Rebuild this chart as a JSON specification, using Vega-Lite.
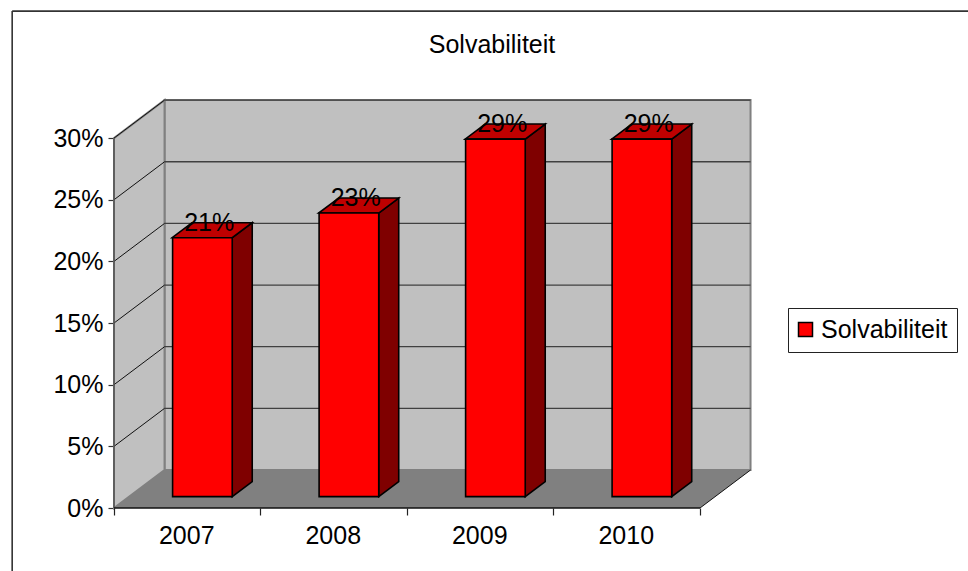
{
"$schema":"https://vega.github.io/schema/vega-lite/v6.json",
"width":636,"height":408,
"autosize":{"type":"none"},
"padding":{"left":114,"top":100,"right":218,"bottom":63},
"background":"white",
"config":{"view":{"stroke":null},"font":"Liberation Sans"},
"title":{"text":"Solvabiliteit","font":"Liberation Sans","fontSize":25,"fontWeight":"normal","color":"#000","anchor":"middle","dx":60,"offset":-68,"baseline":"alphabetic"},
"datasets":{
"bars":[{"year":"2007","value":21},{"year":"2008","value":23},{"year":"2009","value":29},{"year":"2010","value":29}],
"ticks":[{"tick":5},{"tick":10},{"tick":15},{"tick":20},{"tick":25},{"tick":30}],
"depth":[{"t":0},{"t":1}],
"one":[{"k":1}]
},
"layer":[
{"data":{"name":"one"},"mark":{"type":"rect","fill":"#c0c0c0","stroke":"#808080","strokeWidth":2},
 "encoding":{
  "x":{"datum":0.345,"type":"quantitative","scale":{"domain":[0,4.3413],"nice":false,"zero":false},
   "axis":{"values":[0,0.5,1,1.5,2,2.5,3,3.5,4],"title":null,"grid":false,"domain":false,"tickSize":7,"tickColor":"#222","tickWidth":1.2,
    "tickOpacity":{"condition":{"test":"datum.value % 1 === 0","value":1},"value":0},
    "labelExpr":"datum.value % 1 === 0 ? '' : ['2007','2008','2009','2010'][floor(datum.value)]",
    "labelFontSize":25,"labelColor":"#000","labelPadding":8,"labelOffset":-1,"labelFont":"Liberation Sans","labelAngle":0,"labelOverlap":false,"labelBound":false,"labelFlush":false}},
  "x2":{"datum":4.345},
  "y":{"datum":3.08,"type":"quantitative","scale":{"domain":[0,33.09],"nice":false,"zero":false},
   "axis":{"values":[0,5,10,15,20,25,30],"title":null,"grid":false,"domain":false,"tickSize":6,"tickColor":"#333","tickWidth":1.2,
    "labelExpr":"datum.value + '%'","labelFontSize":25,"labelColor":"#000","labelPadding":5,"labelFont":"Liberation Sans","labelOverlap":false,"labelBound":false}},
  "y2":{"datum":33.08}
 }},
{"data":{"name":"depth"},"transform":[{"calculate":"datum.t*0.345","as":"x"},{"calculate":"datum.t*3.08","as":"y0"},{"calculate":"30+datum.t*3.08","as":"y1"}],
 "mark":{"type":"area","fill":"#c0c0c0","stroke":"#808080","strokeWidth":2,"orient":"vertical"},
 "encoding":{"x":{"field":"x","type":"quantitative"},"y":{"field":"y1","type":"quantitative"},"y2":{"field":"y0"}}},
{"data":{"name":"depth"},"transform":[{"calculate":"datum.t*0.345","as":"x0"},{"calculate":"4+datum.t*0.345","as":"x1"},{"calculate":"datum.t*3.08","as":"y"}],
 "mark":{"type":"area","fill":"#808080","orient":"horizontal"},
 "encoding":{"y":{"field":"y","type":"quantitative"},"x":{"field":"x0","type":"quantitative"},"x2":{"field":"x1"}}},
{"data":{"name":"ticks"},"transform":[{"calculate":"datum.tick+3.08","as":"yb"}],
 "mark":{"type":"rule","color":"#404040","strokeWidth":1.3},
 "encoding":{"x":{"datum":0.345,"type":"quantitative"},"x2":{"datum":4.345},"y":{"field":"yb","type":"quantitative"}}},
{"data":{"name":"ticks"},"transform":[{"calculate":"[0,1]","as":"t"},{"flatten":["t"]},{"calculate":"datum.t*0.345","as":"x"},{"calculate":"datum.tick+datum.t*3.08","as":"y"}],
 "mark":{"type":"line","color":"#111","strokeWidth":1},
 "encoding":{"x":{"field":"x","type":"quantitative"},"y":{"field":"y","type":"quantitative"},"detail":{"field":"tick"}}},
{"data":{"name":"one"},"mark":{"type":"rule","color":"#555","strokeWidth":1.5},
 "encoding":{"x":{"datum":0,"type":"quantitative"},"y":{"datum":0,"type":"quantitative"},"y2":{"datum":30}}},
{"data":{"name":"depth"},"transform":[{"calculate":"4+datum.t*0.345","as":"x"},{"calculate":"datum.t*3.08","as":"y"}],
 "mark":{"type":"line","color":"#111","strokeWidth":1},
 "encoding":{"x":{"field":"x","type":"quantitative"},"y":{"field":"y","type":"quantitative"}}},
{"data":{"name":"one"},"mark":{"type":"rule","color":"#111","strokeWidth":1.3},
 "encoding":{"x":{"datum":0,"type":"quantitative"},"x2":{"datum":4},"y":{"datum":0,"type":"quantitative"}}},
{"data":{"name":"bars"},"transform":[{"calculate":"toNumber(datum.year)-2007","as":"i"},{"calculate":"[0,1]","as":"t"},{"flatten":["t"]},{"calculate":"datum.i+0.807+datum.t*0.1365","as":"x"},{"calculate":"datum.value+0.92+datum.t*1.22","as":"y1"},{"calculate":"0.92+datum.t*1.22","as":"y0"}],
 "mark":{"type":"area","fill":"#7f0000","stroke":"#000","strokeWidth":1.6,"orient":"vertical"},
 "encoding":{"x":{"field":"x","type":"quantitative"},"y":{"field":"y1","type":"quantitative"},"y2":{"field":"y0"},"detail":{"field":"year"}}},
{"data":{"name":"bars"},"transform":[{"calculate":"toNumber(datum.year)-2007","as":"i"},{"calculate":"[0,1]","as":"t"},{"flatten":["t"]},{"calculate":"datum.i+0.397+datum.t*0.1365","as":"x0"},{"calculate":"datum.i+0.807+datum.t*0.1365","as":"x1"},{"calculate":"datum.value+0.92+datum.t*1.22","as":"y"}],
 "mark":{"type":"area","fill":"#bf0000","stroke":"#000","strokeWidth":1.6,"orient":"horizontal"},
 "encoding":{"y":{"field":"y","type":"quantitative"},"x":{"field":"x0","type":"quantitative"},"x2":{"field":"x1"},"detail":{"field":"year"}}},
{"data":{"name":"bars"},"transform":[{"calculate":"toNumber(datum.year)-2007+0.4","as":"x0"},{"calculate":"toNumber(datum.year)-2007+0.807","as":"x1"},{"calculate":"datum.value+0.92","as":"y1"},{"calculate":"0.92","as":"y0"}],
 "mark":{"type":"rect","stroke":"#000","strokeWidth":1.6},
 "encoding":{"x":{"field":"x0","type":"quantitative"},"x2":{"field":"x1"},"y":{"field":"y1","type":"quantitative"},"y2":{"field":"y0"},
  "color":{"datum":"Solvabiliteit","scale":{"range":["#ff0000"]},
   "legend":{"title":null,"orient":"none","legendX":674,"legendY":208,"fillColor":"#fff","strokeColor":"#222","padding":9,"symbolOffset":-4,"symbolType":"square","symbolSize":196,"symbolStrokeColor":"#000","symbolStrokeWidth":1.5,"symbolFillColor":"#ff0000","labelFontSize":25,"labelColor":"#000","labelFont":"Liberation Sans","labelOffset":3,"labelLimit":300,"labelExpr":"datum.label + '\u00a0\u00a0'"}}}},
{"data":{"name":"bars"},"transform":[{"calculate":"toNumber(datum.year)-2007+0.65","as":"x"},{"calculate":"datum.value+1.5","as":"y"},{"calculate":"datum.value+'%'","as":"label"}],
 "mark":{"type":"text","fontSize":25,"color":"#000","baseline":"alphabetic","align":"center","font":"Liberation Sans"},
 "encoding":{"x":{"field":"x","type":"quantitative"},"y":{"field":"y","type":"quantitative"},"text":{"field":"label"}}},
{"data":{"name":"one"},"mark":{"type":"rule","color":"#333","strokeWidth":1.6},
 "encoding":{"x":{"datum":-0.695,"type":"quantitative"},"y":{"datum":40.3,"type":"quantitative"},"y2":{"datum":-5.1}}},
{"data":{"name":"one"},"mark":{"type":"rule","color":"#333","strokeWidth":1.6},
 "encoding":{"x":{"datum":-0.695,"type":"quantitative"},"x2":{"datum":5.83},"y":{"datum":40.3,"type":"quantitative"}}}
]
}
